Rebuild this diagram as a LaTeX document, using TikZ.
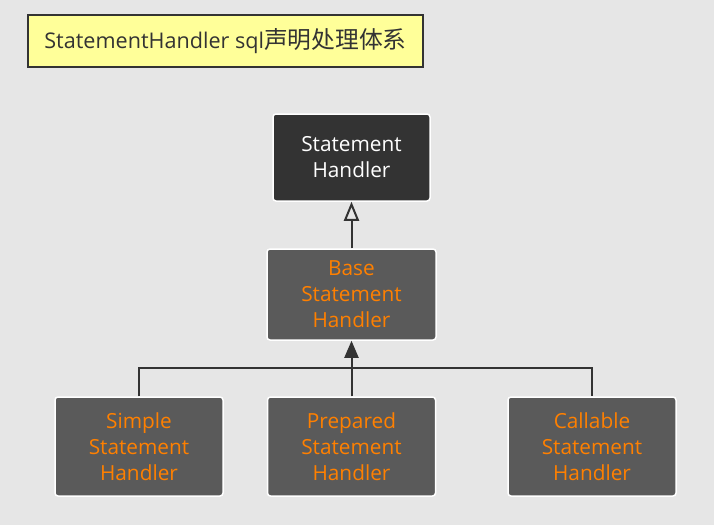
\documentclass[tikz,border=0pt]{standalone}
\usepackage{fontspec}
\setmainfont{Open Sans}
\newfontfamily\cjk[Scale=1.1]{Noto Sans CJK SC}
\usetikzlibrary{arrows.meta}

\definecolor{bgGray}{HTML}{E6E6E6}
\definecolor{noteYellow}{HTML}{FFFF99}
\definecolor{darkBox}{HTML}{333333}
\definecolor{midBox}{HTML}{5A5A5A}
\definecolor{classOrange}{HTML}{FF8000}
\definecolor{lineGray}{HTML}{333333}

\begin{document}
\begin{tikzpicture}[x=1pt,y=-1pt,
        classbox/.style={draw=white, line width=1.5pt, rounded corners=3pt, fill=midBox,
            text=classOrange, align=center, inner sep=0pt,
            font=\fontsize{20.8}{26}\selectfont},
        link/.style={draw=lineGray, line width=2pt}]
        \useasboundingbox[fill=bgGray] (0,0) rectangle (714,525);

        \node[draw=darkBox, line width=2pt, fill=noteYellow, minimum width=395pt, minimum height=52pt,
            inner sep=0pt, font=\fontsize{21.6}{24}\selectfont, text=darkBox] (title) at (225.5,41)
            {StatementHandler sql{\cjk 声明处理体系}};

        \node[classbox, fill=darkBox, text=white, minimum width=157pt, minimum height=87pt] (handler) at (351.5,157.5) {Statement\\Handler};
        \node[classbox, minimum width=169pt, minimum height=91pt] (base) at (351.5,294.5) {Base\\Statement\\Handler};

        \node[classbox, minimum width=168pt, minimum height=99pt] (simple) at (139,446.5) {Simple\\Statement\\Handler};
        \node[classbox, minimum width=168pt, minimum height=99pt] (prepared) at (351.5,446.5) {Prepared\\Statement\\Handler};
        \node[classbox, minimum width=168pt, minimum height=99pt] (callable) at (592,446.5) {Callable\\Statement\\Handler};

        \coordinate (join) at (351.5,368);

        \draw[link, -{Triangle[open, length=19pt, width=15pt]}] (base.north) -- (handler.south);
        \draw[link, -{Triangle[length=17pt, width=14pt]}] (prepared.north) -- (base.south);
        \draw[link] (simple.north) |- (join) -| (callable.north);
    \end{tikzpicture}
\end{document}
